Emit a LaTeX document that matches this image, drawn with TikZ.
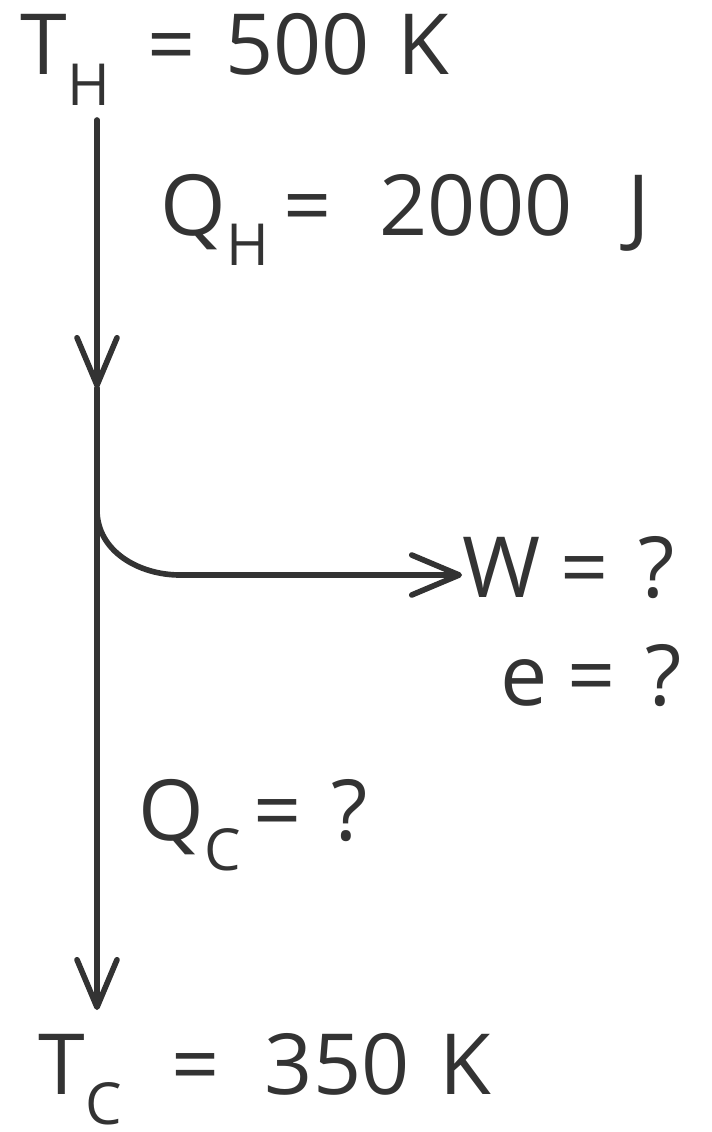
\documentclass[tikz,border=0pt]{standalone}
\usepackage{fontspec}
\setmainfont{Open Sans}
\usepackage{tikz}
\usetikzlibrary{arrows.meta,positioning}
\definecolor{ink}{HTML}{333333}
\newcommand{\lowsub}[1]{\raisebox{-0.36em}{\fontsize{33}{33}\selectfont #1}}

\begin{document}
\begin{tikzpicture}[
  x=0.02cm,y=-0.02cm,
  >={Straight Barb[length=9.5mm,width=8mm,round]},
  lbl/.style={inner sep=0pt,text=ink,font=\fontsize{48}{52}\selectfont},
  flow/.style={->,draw=ink,line width=3.2pt,line cap=round,line join=round}
]
\useasboundingbox (0,0) rectangle (711,1132);

\node[lbl,anchor=base west] (TH) at (20,75)
  {T\lowsub{H}\hspace{0.75cm}=\hspace{0.6cm}500\hspace{0.55cm}K};
\node[lbl,anchor=base west] (QH) at (160,235)
  {Q\lowsub{H}\hspace{0.3cm}=\hspace{0.95cm}2000\hspace{1.1cm}J};
\node[lbl,anchor=west] (W) at (462,568)
  {W\hspace{0.4cm}=\hspace{0.6cm}?};
\node[lbl,anchor=base west] (e) at (500,705)
  {e\hspace{0.4cm}=\hspace{0.6cm}?};
\node[lbl,anchor=base west] (QC) at (138,840)
  {Q\lowsub{C}\hspace{0.25cm}=\hspace{0.6cm}?};
\node[lbl,anchor=base west] (TC) at (38,1094)
  {T\lowsub{C}\hspace{1cm}=\hspace{0.9cm}350\hspace{0.6cm}K};

\coordinate (top) at (97,120);
\coordinate (mid) at (97,388);
\coordinate (split) at (97,510);
\coordinate (bot) at (97,1010);

\draw[flow] (top) -- (mid);
\draw[flow] (mid) -- (bot);
\draw[flow] (split) to[out=-90,in=180] (180,575) -- (W.west |- 0,575);
\end{tikzpicture}
\end{document}
